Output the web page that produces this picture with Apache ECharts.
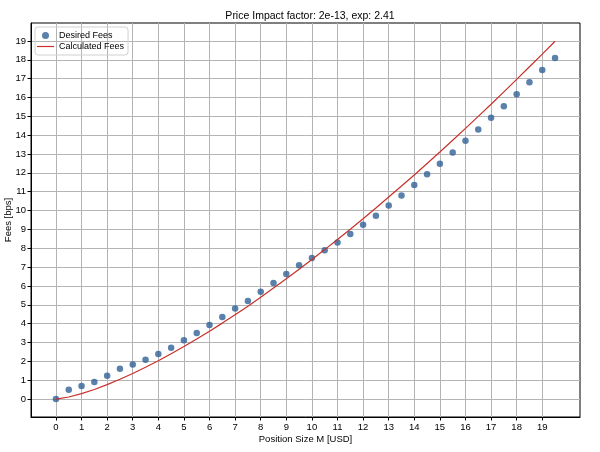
<!DOCTYPE html>
<html>
<head>
<meta charset="utf-8">
<script src="https://cdn.jsdelivr.net/npm/echarts@6/dist/echarts.min.js"></script>
<style>html,body{margin:0;padding:0;background:#fff;}#c{width:600px;height:452px;}</style>
</head>
<body>
<div id="c"></div>
<script>
var positions = [0,0.5,1,1.5,2,2.5,3,3.5,4,4.5,5,5.5,6,6.5,7,7.5,8,8.5,9,9.5,10,10.5,11,11.5,12,12.5,13,13.5,14,14.5,15,15.5,16,16.5,17,17.5,18,18.5,19,19.5];
var desiredFees = [0,0.50,0.69,0.90,1.24,1.61,1.84,2.09,2.39,2.73,3.12,3.50,3.93,4.35,4.80,5.20,5.70,6.16,6.64,7.10,7.49,7.89,8.30,8.76,9.25,9.73,10.27,10.80,11.36,11.93,12.49,13.08,13.70,14.30,14.92,15.54,16.17,16.81,17.46,18.10];
var calculatedFees = [0,0.11,0.29,0.51,0.77,1.05,1.36,1.69,2.03,2.40,2.79,3.19,3.60,4.03,4.48,4.93,5.40,5.89,6.38,6.89,7.40,7.93,8.47,9.01,9.57,10.14,10.72,11.30,11.89,12.50,13.11,13.73,14.36,15.00,15.64,16.30,16.96,17.63,18.30,18.98];
var xTicks = [0,1,2,3,4,5,6,7,8,9,10,11,12,13,14,15,16,17,18,19];
var yTicks = [0,1,2,3,4,5,6,7,8,9,10,11,12,13,14,15,16,17,18,19];

var font = 'Liberation Sans';
var chart = echarts.init(document.getElementById('c'), null, {renderer: 'canvas'});
chart.setOption({
  animation: false,
  backgroundColor: '#fff',
  textStyle: {fontFamily: font},
  title: {
    text: 'Price Impact factor: 2e-13, exp: 2.41',
    left: 305, top: 6, textAlign: 'center',
    textStyle: {fontFamily: font, fontSize: 10.5, fontWeight: 'normal', color: '#000'}
  },
  legend: {
    left: 35, top: 27, orient: 'vertical',
    padding: [4, 4, 4, 2], itemGap: 2, itemWidth: 17, itemHeight: 7,
    borderColor: '#d0d0d0', borderWidth: 1, borderRadius: 3,
    textStyle: {fontFamily: font, fontSize: 9, color: '#000'},
    data: [
      {name: 'Desired Fees', icon: 'circle'},
      {name: 'Calculated Fees', icon: 'path://M0,0H17V1.2H0Z'}
    ]
  },
  grid: {left: 31, right: 20, top: 23, bottom: 35, show: true, borderColor: '#000', borderWidth: 1,
         containLabel: false, outerBoundsMode: 'none'},
  xAxis: {
    type: 'value', min: -0.975, max: 20.475,
    name: 'Position Size M [USD]', nameLocation: 'middle', nameGap: 17, nameMoveOverlap: false,
    nameTextStyle: {fontFamily: font, fontSize: 9.5, color: '#000'},
    axisLine: {show: true, onZero: false, lineStyle: {color: '#000', width: 1}},
    axisTick: {show: true, length: 3.5, customValues: xTicks, lineStyle: {color: '#000'}},
    axisLabel: {show: true, customValues: xTicks, fontFamily: font, fontSize: 9.5, color: '#000', margin: 5},
    splitLine: {show: true, customValues: xTicks, lineStyle: {color: '#b4b4b4', width: 1}}
  },
  yAxis: {
    type: 'value', min: -0.95, max: 19.95,
    name: 'Fees [bps]', nameLocation: 'middle', nameGap: 18, nameRotate: 90, nameMoveOverlap: false,
    nameTextStyle: {fontFamily: font, fontSize: 9.5, color: '#000'},
    axisLine: {show: true, onZero: false, lineStyle: {color: '#000', width: 1}},
    axisTick: {show: true, length: 3.5, customValues: yTicks, lineStyle: {color: '#000'}},
    axisLabel: {show: true, customValues: yTicks, fontFamily: font, fontSize: 9.5, color: '#000', margin: 5},
    splitLine: {show: true, customValues: yTicks, lineStyle: {color: '#b4b4b4', width: 1}}
  },
  series: [
    {
      name: 'Desired Fees', type: 'scatter', symbol: 'circle', symbolSize: 6.5,
      itemStyle: {color: '#2f6196'},
      data: positions.map(function (x, i) { return [x, desiredFees[i]]; }),
      z: 3
    },
    {
      name: 'Calculated Fees', type: 'line', showSymbol: false, symbol: 'none', smooth: false,
      lineStyle: {color: '#c8302a', width: 1.2}, itemStyle: {color: '#c8302a'},
      data: positions.map(function (x, i) { return [x, calculatedFees[i]]; }),
      z: 4
    }
  ]
});
</script>
</body>
</html>
